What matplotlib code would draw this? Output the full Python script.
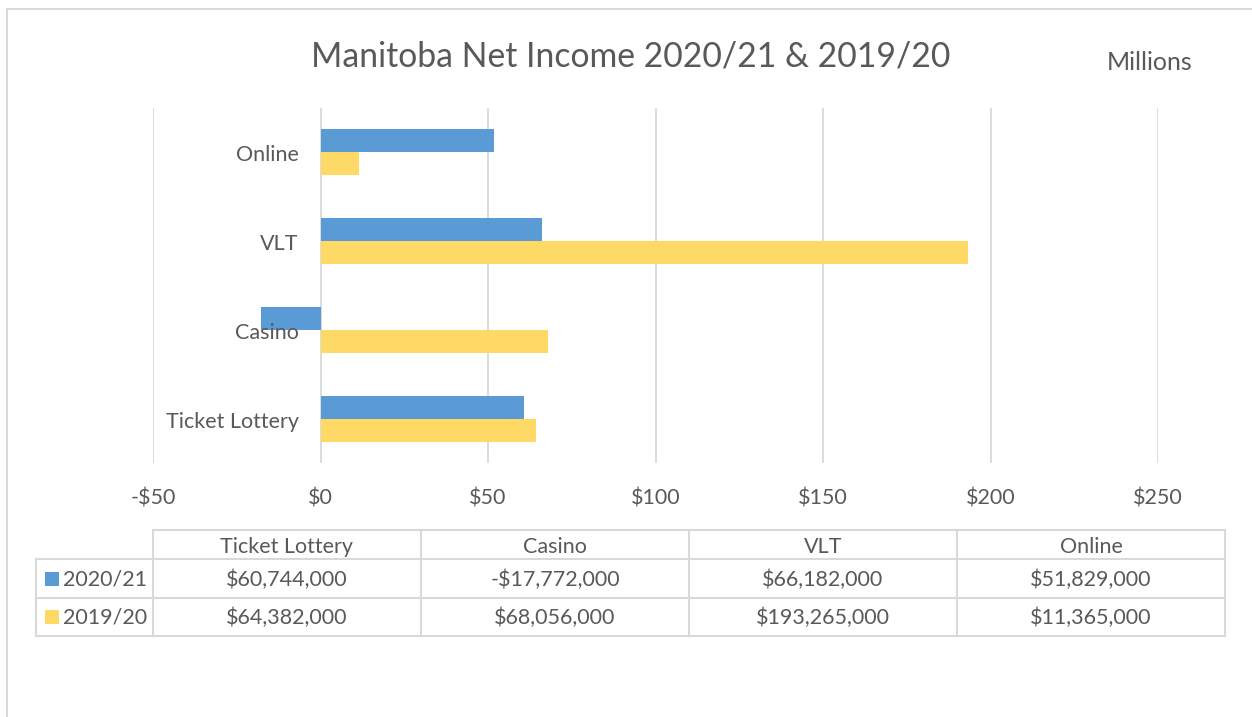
#!/usr/bin/env python3
"""
Manitoba net income by game type, 2020/21 vs 2019/20 (Excel-style bar chart with data table)
"""

import matplotlib
matplotlib.use('Agg')
import matplotlib.pyplot as plt
from matplotlib.lines import Line2D
from matplotlib.patches import Rectangle

categories = ['Ticket Lottery', 'Casino', 'VLT', 'Online']
series_names = ['2020/21', '2019/20']
income_2021 = [60744000, -17772000, 66182000, 51829000]
income_1920 = [64382000, 68056000, 193265000, 11365000]
x_ticks = [-50, 0, 50, 100, 150, 200, 250]

BLUE = '#5B9BD5'
YELLOW = '#FFD966'
TEXT = '#595959'
GRID = '#D9D9D9'
FONT = 'Lato'
FS = 15.5

W, H = 1252, 717


def fx(px):
    return px / W


def fy(py):
    return 1 - py / H


def money(v):
    sign = '-' if v < 0 else ''
    return f"{sign}${abs(v):,}"


fig = plt.figure(figsize=(W / 100, H / 100), dpi=100)
plt.rcParams['font.family'] = [FONT, 'DejaVu Sans']

# chart area border (runs off the right and bottom of the picture)
fig.add_artist(Line2D([fx(7), 1], [fy(9), fy(9)], color=GRID, lw=1.5))
fig.add_artist(Line2D([fx(7), fx(7)], [fy(9), 0], color=GRID, lw=1.5))

# plot area
ax = fig.add_axes([fx(153), fy(463), fx(1158) - fx(153), fy(108) - fy(463)])
y = list(range(len(categories)))
bh = 0.26
ax.barh([v + bh / 2 for v in y], [v / 1e6 for v in income_2021], height=bh, color=BLUE, zorder=3)
ax.barh([v - bh / 2 for v in y], [v / 1e6 for v in income_1920], height=bh, color=YELLOW, zorder=3)

ax.set_xlim(x_ticks[0], x_ticks[-1])
ax.set_ylim(-0.5, len(categories) - 0.5)
ax.set_xticks(x_ticks)
ax.set_xticklabels([money(t) for t in x_ticks])
ax.tick_params(axis='x', length=0, pad=18.5, labelsize=FS, labelcolor=TEXT)
ax.set_yticks([])
for s in ax.spines.values():
    s.set_visible(False)
ax.grid(axis='x', color=GRID, lw=1.3, zorder=0)
ax.set_axisbelow(True)

# category labels sit next to the value axis at 0 (drawn over the bars, like Excel)
for yi, cat in zip(y, categories):
    ax.annotate(cat, xy=(0, yi), xytext=(-22, -3), textcoords='offset pixels',
                ha='right', va='center', fontsize=FS, color=TEXT, zorder=5)

# title and units
fig.text(fx(631), fy(56), 'Manitoba Net Income 2020/21 & 2019/20',
         ha='center', va='center', fontsize=24.3, color=TEXT)
fig.text(fx(1150), fy(63), 'Millions', ha='center', va='center', fontsize=18, color=TEXT)

# data table
col_edges = [153, 421, 689, 957, 1225]
row_edges = [530, 559, 598, 636]
lw = 1.5
fig.add_artist(Line2D([fx(153), fx(1225)], [fy(530), fy(530)], color=GRID, lw=lw))
for ry in row_edges[1:]:
    fig.add_artist(Line2D([fx(36), fx(1225)], [fy(ry), fy(ry)], color=GRID, lw=lw))
for cx in col_edges:
    fig.add_artist(Line2D([fx(cx), fx(cx)], [fy(530), fy(636)], color=GRID, lw=lw))
fig.add_artist(Line2D([fx(36), fx(36)], [fy(559), fy(636)], color=GRID, lw=lw))

centers = [(a + b) / 2 for a, b in zip(col_edges[:-1], col_edges[1:])]
row_mid = [547, 580, 618]
for cx, cat in zip(centers, categories):
    fig.text(fx(cx), fy(row_mid[0]), cat, ha='center', va='center', fontsize=FS, color=TEXT)

for ry, name, color, vals in zip(row_mid[1:], series_names, [BLUE, YELLOW],
                                 [income_2021, income_1920]):
    fig.add_artist(Rectangle((fx(45), fy(ry + 6)), fx(14), 14 / H,
                             facecolor=color, edgecolor='none'))
    fig.text(fx(63), fy(ry), name, ha='left', va='center', fontsize=FS, color=TEXT)
    for cx, v in zip(centers, vals):
        fig.text(fx(cx), fy(ry), money(v), ha='center', va='center', fontsize=FS, color=TEXT)

fig.savefig('out.png', dpi=100, facecolor='white')
print("Saved: out.png")
